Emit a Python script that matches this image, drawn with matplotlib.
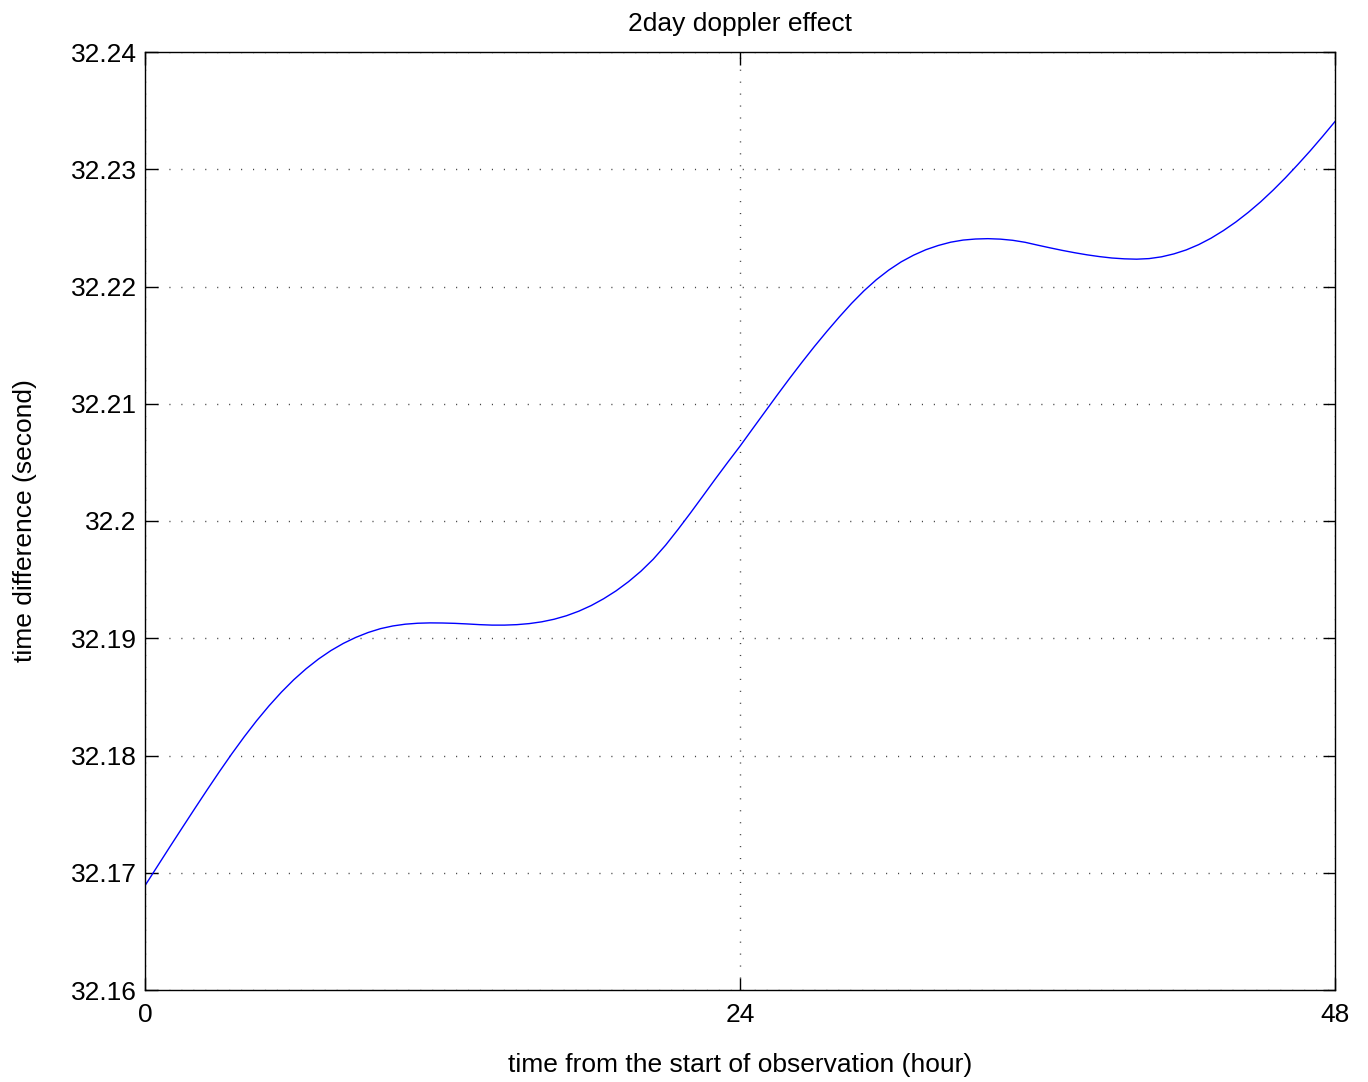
import numpy as np
import matplotlib
matplotlib.use("Agg")
import matplotlib.pyplot as plt

# values, every half hour
hours = np.arange(0, 48.5, 0.5)
time_diff = [32.16890, 32.17055, 32.17220, 32.17383, 32.17545, 32.17705, 32.17862, 32.18014,
             32.18159, 32.18296, 32.18423, 32.18540, 32.18646, 32.18740, 32.18823, 32.18895,
             32.18956, 32.19007, 32.19049, 32.19082, 32.19105, 32.19120, 32.19128, 32.19131,
             32.19130, 32.19127, 32.19122, 32.19116, 32.19112, 32.19112, 32.19116, 32.19125,
             32.19140, 32.19162, 32.19192, 32.19231, 32.19279, 32.19337, 32.19404, 32.19482,
             32.19571, 32.19674, 32.19794, 32.19928, 32.20068, 32.20212, 32.20357, 32.20499,
             32.20638, 32.20784, 32.20929, 32.21074, 32.21216, 32.21354, 32.21488, 32.21616,
             32.21739, 32.21856, 32.21963, 32.22058, 32.22140, 32.22210, 32.22267, 32.22314,
             32.22350, 32.22378, 32.22396, 32.22405, 32.22408, 32.22404, 32.22394, 32.22377,
             32.22353, 32.22330, 32.22308, 32.22288, 32.22270, 32.22255, 32.22243, 32.22236,
             32.22233, 32.22238, 32.22253, 32.22278, 32.22312, 32.22357, 32.22412, 32.22477,
             32.22550, 32.22632, 32.22722, 32.22821, 32.22927, 32.23040, 32.23157, 32.23280,
             32.23407]

xticks = [0, 24, 48]
yticks = [32.16, 32.17, 32.18, 32.19, 32.20, 32.21, 32.22, 32.23, 32.24]
ytick_labels = ["32.16", "32.17", "32.18", "32.19", "32.2", "32.21", "32.22", "32.23", "32.24"]

plt.rcParams['font.family'] = ['Liberation Sans', 'DejaVu Sans']

fig = plt.figure(figsize=(13.68, 10.82), dpi=100)
ax = fig.add_axes([145/1368, 1 - 990/1082, (1335-145)/1368, (990-52)/1082])

ax.plot(hours, time_diff, color='#0000ff', lw=1.0)

ax.set_xlim(0, 48)
ax.set_ylim(32.16, 32.24)
ax.set_xticks(xticks)
ax.set_xticklabels([str(t) for t in xticks])
ax.set_yticks(yticks)
ax.set_yticklabels(ytick_labels)

ax.grid(True, color='#444444', linestyle=(0, (0.8, 7.8)), lw=1.0)
ax.tick_params(direction='in', top=True, right=True, length=9, width=1.0,
               labelsize=19)
ax.tick_params(axis='y', pad=6)
ax.tick_params(axis='x', pad=9)
for s in ax.spines.values():
    s.set_linewidth(1.0)

ax.set_title("2day doppler effect", fontsize=19, pad=15)
ax.set_xlabel("time from the start of observation (hour)", fontsize=19, labelpad=19)
ax.set_ylabel("time difference (second)", fontsize=19, labelpad=24)

fig.savefig("out.png", dpi=100)
